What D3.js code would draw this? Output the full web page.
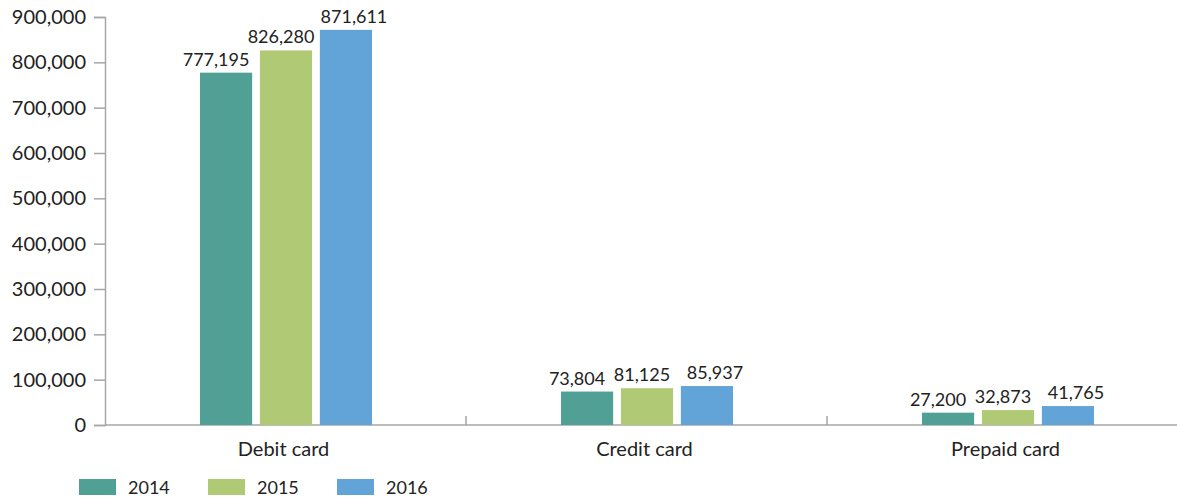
<!DOCTYPE html>
<html>
<head>
<meta charset="utf-8">
<script src="https://cdn.jsdelivr.net/npm/d3@7"></script>
<style>
  body { margin: 0; background: #fff; }
  text { font-family: Lato, "Noto Sans", sans-serif; fill: #222; }
</style>
</head>
<body>
<svg id="chart" width="1177" height="502"></svg>
<script>
const categories = ["Debit card", "Credit card", "Prepaid card"];
const years = ["2014", "2015", "2016"];
const values2014 = [777195, 73804, 27200];
const values2015 = [826280, 81125, 32873];
const values2016 = [871611, 85937, 41765];
const yTicks = [0, 100000, 200000, 300000, 400000, 500000, 600000, 700000, 800000, 900000];

const colors = ["#51a095", "#b0c974", "#62a4d7"];
// value labels sit a little off centre, like the original
const labelNudge = [-10, -5, 8];

const series = [values2014, values2015, values2016];
const data = categories.map((c, i) => ({
    category: c,
    values: years.map((y, j) => ({year: y, value: series[j][i], idx: j}))
}));

const svg = d3.select("#chart");
const plotLeft = 105, plotTop = 17, plotBottom = 425;

const x0 = d3.scaleBand()
    .domain(categories)
    .range([plotLeft, plotLeft + 3 * 361]);

const x1 = d3.scaleBand()
    .domain(years)
    .range([95, 267])
    .paddingInner(0.13);

const y = d3.scaleLinear()
    .domain([0, 900000])
    .range([plotBottom, plotTop]);

// Y axis
const yAxis = svg.append("g")
    .attr("transform", "translate(" + plotLeft + ",0)")
    .call(d3.axisLeft(y).tickValues(yTicks).tickFormat(d3.format(",")).tickSize(11).tickPadding(8));
yAxis.select(".domain").attr("stroke", "#a6a6a6").attr("stroke-width", 1.5);
yAxis.selectAll(".tick line").attr("stroke", "#a6a6a6").attr("stroke-width", 1.5);
yAxis.selectAll(".tick text").style("font-size", "20px").attr("fill", "#222");

// X axis baseline and separators
svg.append("line")
    .attr("x1", plotLeft).attr("x2", 1177)
    .attr("y1", plotBottom).attr("y2", plotBottom)
    .attr("stroke", "#a6a6a6").attr("stroke-width", 1.5);

svg.append("g")
    .selectAll("line")
    .data(categories.slice(1))
    .join("line")
    .attr("x1", d => x0(d)).attr("x2", d => x0(d))
    .attr("y1", plotBottom).attr("y2", plotBottom - 9)
    .attr("stroke", "#a6a6a6").attr("stroke-width", 1.5);

svg.append("g")
    .selectAll("text")
    .data(categories)
    .join("text")
    .attr("x", d => x0(d) + x0.bandwidth() / 2 - 2)
    .attr("y", 456)
    .attr("text-anchor", "middle")
    .style("font-size", "20px")
    .text(d => d);

// Bars
const groups = svg.append("g")
    .selectAll("g")
    .data(data)
    .join("g")
    .attr("transform", d => "translate(" + x0(d.category) + ",0)");

groups.selectAll("rect")
    .data(d => d.values)
    .join("rect")
    .attr("x", d => x1(d.year))
    .attr("width", x1.bandwidth())
    .attr("y", d => y(d.value))
    .attr("height", d => plotBottom - y(d.value))
    .attr("fill", d => colors[d.idx]);

groups.selectAll("text")
    .data(d => d.values)
    .join("text")
    .attr("x", d => x1(d.year) + x1.bandwidth() / 2 + labelNudge[d.idx])
    .attr("y", d => y(d.value) - 7)
    .attr("text-anchor", "middle")
    .style("font-size", "18px")
    .text(d => d3.format(",")(d.value));

// Legend
const legend = svg.append("g")
    .selectAll("g")
    .data(years)
    .join("g")
    .attr("transform", (d, i) => "translate(" + (79 + i * 129) + ",479)");

legend.append("rect")
    .attr("width", 37)
    .attr("height", 16)
    .attr("fill", (d, i) => colors[i]);

legend.append("text")
    .attr("x", 49)
    .attr("y", 15)
    .style("font-size", "18px")
    .text(d => d);
</script>
</body>
</html>
